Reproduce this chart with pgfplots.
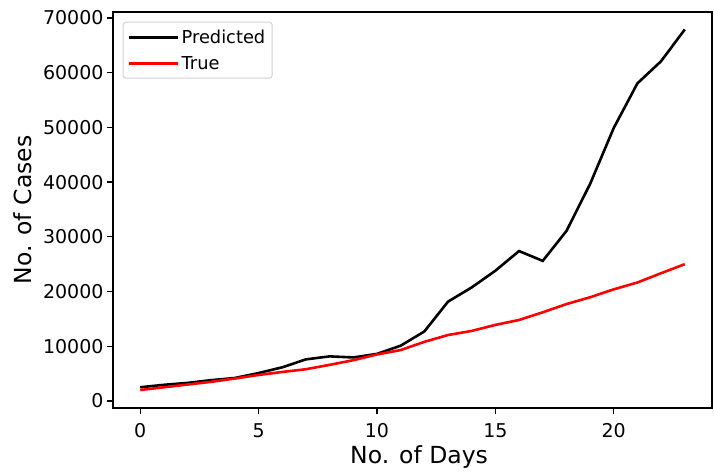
\documentclass[border=0pt]{standalone}
\usepackage{fontspec}
\setmainfont{DejaVu Sans}
\usepackage{pgfplots}
\pgfplotsset{compat=1.18}
\begin{document}
\begin{tikzpicture}
\begin{axis}[
  scale only axis,
  width=599pt, height=396pt,
  xmin=-1.15, xmax=24.15,
  ymin=-1290, ymax=71090,
  scaled y ticks=false, scaled x ticks=false,
  xtick={0,5,10,15,20},
  xticklabels={0,5,10,15,20},
  ytick={0,10000,20000,30000,40000,50000,60000,70000},
  yticklabels={0,10000,20000,30000,40000,50000,60000,70000},
  every tick label/.append style={font=\fontsize{19}{22}\selectfont},
  xticklabel style={yshift=-6pt},
  xtick pos=bottom, ytick pos=left,
  tick align=outside,
  major tick length=6pt,
  tick style={black, line width=1.3pt},
  axis line style={line width=1.3pt},
  xlabel={No. of Days}, ylabel={No. of Cases},
  every axis x label/.style={at={(axis description cs:0.511,-0.141)}, anchor=base, font=\fontsize{23.5}{26}\selectfont},
  every axis y label/.style={at={(axis description cs:-0.1357,0.5)}, rotate=90, anchor=base, font=\fontsize{23.5}{26}\selectfont},
  legend style={font=\fontsize{17.8}{20}\selectfont, draw=black!18, rounded corners=3pt, line width=1pt,
    at={(0.016,0.9755)}, anchor=north west, inner xsep=5pt, inner ysep=5.5pt, row sep=7.5pt},
  legend cell align=left,
  legend image code/.code={\draw[#1, solid, line width=2.6pt] (0pt,0pt) -- (39pt,0pt); \path (0pt,0pt) -- (49pt,0pt);},
]
\addplot[black, line width=2.6pt] coordinates {
(0,2500) (1,2950) (2,3300) (3,3800) (4,4200) (5,5100) (6,6150) (7,7600) (8,8150) (9,7950) (10,8600) (11,10100) (12,12700) (13,18150) (14,20750) (15,23800) (16,27400) (17,25600) (18,31050) (19,39650) (20,49900) (21,58050) (22,62100) (23,67900)};
\addlegendentry{Predicted}
\addplot[red, line width=2.6pt] coordinates {
(0,2000) (1,2500) (2,3000) (3,3500) (4,4100) (5,4750) (6,5300) (7,5800) (8,6600) (9,7450) (10,8500) (11,9300) (12,10800) (13,12050) (14,12800) (15,13900) (16,14800) (17,16200) (18,17700) (19,18950) (20,20400) (21,21650) (22,23350) (23,25000)};
\addlegendentry{True}
\end{axis}
\pgfresetboundingbox
\path ([xshift=-113pt,yshift=-63pt]current axis.south west) rectangle ([xshift=2pt,yshift=12pt]current axis.north east);
\end{tikzpicture}
\end{document}
